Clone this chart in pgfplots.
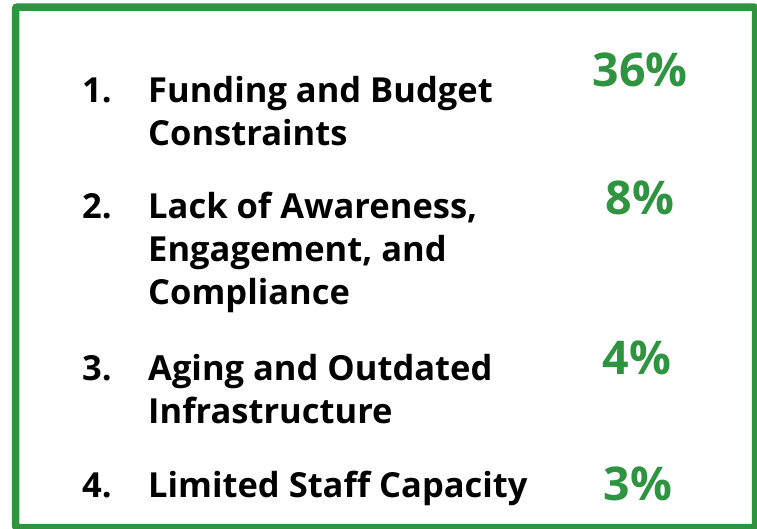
\documentclass[border=0pt]{standalone}
\usepackage{pgfplots}
\usepackage{pgfplotstable}
\pgfplotsset{compat=1.18}
\usepackage{fontspec}
\setmainfont{Open Sans}
\definecolor{boxgreen}{RGB}{46,148,64}
\definecolor{pctgreen}{RGB}{46,148,64}

% share of respondents per challenge; px/py = where the figure sits (pixel layout)
\pgfplotstableread{
rank val px  py
1    36  640 86
2    8   640 214
3    4   637 374
4    3   638 500
}\pcttable

\newcommand{\lbl}{\fontsize{34.5}{34.5}\selectfont\bfseries}

\begin{document}
\begin{tikzpicture}
\begin{axis}[
    width=757pt, height=528pt,
    scale only axis,
    hide axis,
    xmin=0, xmax=757,
    ymin=0, ymax=528,
    y dir=reverse,
    clip=true,
]
\draw[boxgreen, line width=7.5pt, rounded corners=2pt]
    (axis cs:15.5,7) rectangle (axis cs:755.5,527.5);

\addplot[draw=none, mark=none,
    point meta=explicit symbolic,
    nodes near coords={\pgfplotspointmeta\%},
    nodes near coords style={anchor=base, inner sep=0pt,
        font=\fontsize{46.5}{46.5}\selectfont\bfseries, text=pctgreen},
] table[x=px, y=py, meta=val] {\pcttable};

\node[anchor=base west, inner sep=0pt, font=\lbl] at (axis cs:82,102) {1.};
\node[anchor=base west, inner sep=0pt, font=\lbl] at (axis cs:148,102) {Funding and Budget};
\node[anchor=base west, inner sep=0pt, font=\lbl] at (axis cs:148,145) {Constraints};

\node[anchor=base west, inner sep=0pt, font=\lbl] at (axis cs:82,218) {2.};
\node[anchor=base west, inner sep=0pt, font=\lbl] at (axis cs:148,218) {Lack of Awareness,};
\node[anchor=base west, inner sep=0pt, font=\lbl] at (axis cs:148,261) {Engagement, and};
\node[anchor=base west, inner sep=0pt, font=\lbl] at (axis cs:148,304) {Compliance};

\node[anchor=base west, inner sep=0pt, font=\lbl] at (axis cs:82,380) {3.};
\node[anchor=base west, inner sep=0pt, font=\lbl] at (axis cs:148,380) {Aging and Outdated};
\node[anchor=base west, inner sep=0pt, font=\lbl] at (axis cs:148,423) {Infrastructure};

\node[anchor=base west, inner sep=0pt, font=\lbl] at (axis cs:82,497) {4.};
\node[anchor=base west, inner sep=0pt, font=\lbl] at (axis cs:148,497) {Limited Staff Capacity};
\end{axis}
\pgfresetboundingbox
\path (current axis.south west) rectangle (current axis.north east);
\end{tikzpicture}
\end{document}
